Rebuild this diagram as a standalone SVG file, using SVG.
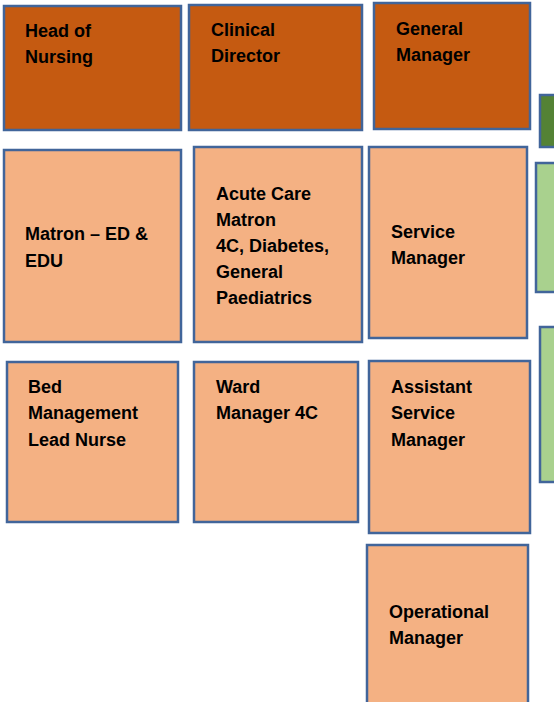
<svg xmlns="http://www.w3.org/2000/svg" width="554" height="702" viewBox="0 0 554 702">
<style>
rect{stroke:#41659A;stroke-width:2.5}
.d{fill:#C55A11}
.l{fill:#F4B183}
.g{fill:#548235}
.lg{fill:#A9D18E}
text{font-family:"Liberation Sans",Arial,sans-serif;font-weight:bold;font-size:18px;fill:#000}
</style>
<rect width="554" height="702" fill="#fff" style="stroke:none"/>
<g id="head-of-nursing"><rect class="d" x="4" y="6" width="177" height="124"/><text x="25" y="37">Head of</text><text x="25" y="63">Nursing</text></g>
<g id="clinical-director"><rect class="d" x="189" y="5" width="173" height="125"/><text x="211" y="36">Clinical</text><text x="211" y="62">Director</text></g>
<g id="general-manager"><rect class="d" x="374" y="3" width="156" height="126"/><text x="396" y="35">General</text><text x="396" y="61">Manager</text></g>
<g id="green-dark"><rect class="g" x="540" y="95" width="20" height="52"/></g>
<g id="matron-ed"><rect class="l" x="4" y="150" width="177" height="192"/><text x="25" y="240">Matron – ED &amp;</text><text x="25" y="267">EDU</text></g>
<g id="acute-care-matron"><rect class="l" x="194" y="147" width="168" height="195"/><text x="216" y="200">Acute Care</text><text x="216" y="226">Matron</text><text x="216" y="252">4C, Diabetes,</text><text x="216" y="278">General</text><text x="216" y="304">Paediatrics</text></g>
<g id="service-manager"><rect class="l" x="369" y="147" width="158" height="191"/><text x="391" y="238">Service</text><text x="391" y="264">Manager</text></g>
<g id="green-light-1"><rect class="lg" x="536" y="163" width="24" height="129"/></g>
<g id="green-light-2"><rect class="lg" x="540" y="327" width="20" height="155"/></g>
<g id="bed-management"><rect class="l" x="7" y="362" width="171" height="160"/><text x="28" y="393">Bed</text><text x="28" y="419">Management</text><text x="28" y="446">Lead Nurse</text></g>
<g id="ward-manager"><rect class="l" x="194" y="362" width="164" height="160"/><text x="216" y="393">Ward</text><text x="216" y="419">Manager 4C</text></g>
<g id="assistant-service-manager"><rect class="l" x="369" y="361" width="161" height="172"/><text x="391" y="393">Assistant</text><text x="391" y="419">Service</text><text x="391" y="446">Manager</text></g>
<g id="operational-manager"><rect class="l" x="367" y="545" width="161" height="165"/><text x="389" y="618">Operational</text><text x="389" y="644">Manager</text></g>
<g id="connectors"></g>
</svg>
